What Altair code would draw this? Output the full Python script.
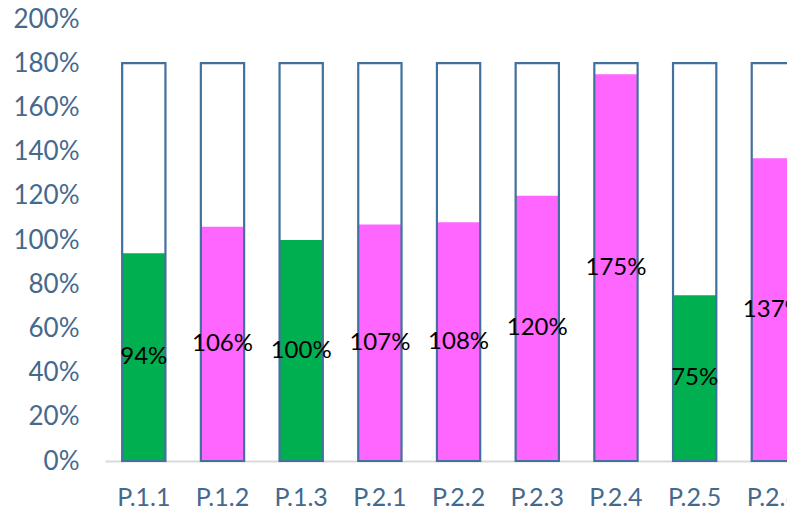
import altair as alt
import pandas as pd

categories = ["P.1.1", "P.1.2", "P.1.3", "P.2.1", "P.2.2", "P.2.3", "P.2.4", "P.2.5", "P.2.6"]
values = [0.94, 1.06, 1.00, 1.07, 1.08, 1.20, 1.75, 0.75, 1.37]
colors = ["#00B050", "#FF66FF", "#00B050", "#FF66FF", "#FF66FF", "#FF66FF", "#FF66FF", "#00B050", "#FF66FF"]
background_max = [1.80] * len(categories)
tick_values = [0, 0.2, 0.4, 0.6, 0.8, 1.0, 1.2, 1.4, 1.6, 1.8, 2.0]

df = pd.DataFrame({
    "cat": categories,
    "value": values,
    "half": [v / 2 for v in values],
    "color": colors,
    "bg": background_max,
    "label": [f"{round(v * 100)}%" for v in values],
})

AXIS_COLOR = "#44698F"
FONT = "Lato"

x_axis = alt.Axis(
    title=None, labelAngle=0, ticks=False, domain=True, domainColor="#D9D9D9",
    domainWidth=2, grid=False, labelColor=AXIS_COLOR, labelFont=FONT, labelFontSize=25,
    labelPadding=24, labelFlush=False, labelOverlap=False,
)
x_scale = alt.Scale(paddingInner=0.45, paddingOuter=0.109, align=1)
yscale = alt.Scale(domain=[0, 2.0], nice=False)
y_axis = alt.Axis(
    title=None, format=".0%", values=tick_values,
    ticks=False, domain=False, grid=False, labelColor=AXIS_COLOR, labelFont=FONT,
    labelFontSize=26, labelPadding=26, domainColor="transparent",
)

def X():
    return alt.X("cat:N", sort=categories, scale=x_scale, axis=x_axis)

no_view = alt.ViewBackground(strokeWidth=0, strokeOpacity=0, stroke="transparent")

base = alt.Chart(df)

colored = base.mark_bar().encode(
    x=X(),
    y=alt.Y("value:Q", scale=yscale, axis=y_axis),
    color=alt.Color("color:N", scale=None),
)

outline = base.mark_bar(fill="transparent", stroke="#41719C", strokeWidth=2.2).encode(
    x=X(),
    y=alt.Y("bg:Q", scale=yscale, axis=y_axis),
)

labels = base.mark_text(font=FONT, fontSize=24, color="#000000", baseline="middle").encode(
    x=X(),
    y=alt.Y("half:Q", scale=yscale, axis=y_axis),
    text="label:N",
)

chart = (
    alt.layer(colored, outline, labels)
    .properties(
        width=690, height=442,
        autosize=alt.AutoSizeParams(type="none"),
        padding={"left": 97, "top": 11, "right": -8, "bottom": 49},
        view=no_view,
    )
    .configure_view(strokeWidth=0, strokeOpacity=0, stroke="transparent")
    .configure_axis(grid=False)
    .configure_axisY(domain=False, ticks=False, grid=False)
    .configure_axisX(grid=False, ticks=False)
    .configure(background="white")
)

chart.save("out.html", embed_options={"renderer": "svg", "actions": False})
